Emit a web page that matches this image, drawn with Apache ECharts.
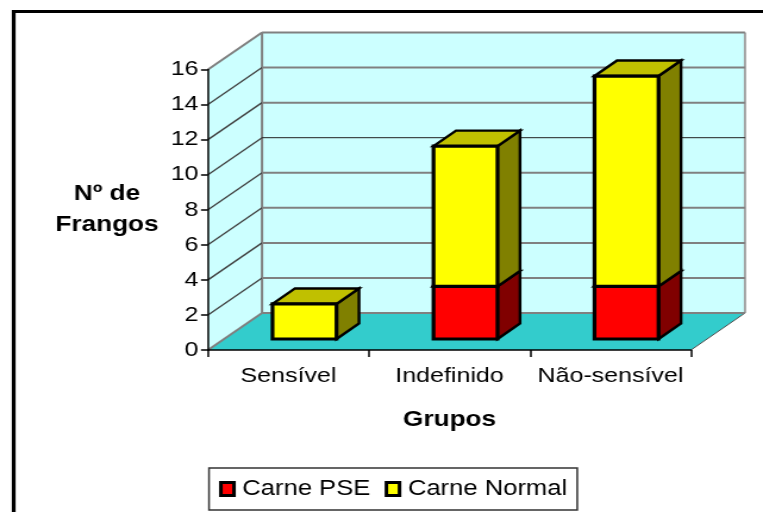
<!DOCTYPE html>
<html>
<head>
<meta charset="utf-8">
<style>html,body{margin:0;padding:0;background:#fff;overflow:hidden}#c{width:641px;height:512px;transform-origin:0 0;transform:scaleX(1.19033)}</style>
<script src="https://cdn.jsdelivr.net/npm/echarts@6/dist/echarts.min.js"></script>
</head>
<body>
<div id="c"></div>
<script>
const categories = ['Sensível', 'Indefinido', 'Não-sensível'];
const pseValues = [0, 3, 3];
const normalValues = [2, 8, 12];
const yTicks = [0, 2, 4, 6, 8, 10, 12, 14, 16];
const FONT = '"Liberation Sans", Arial, sans-serif';

// The reference is a picture stretched horizontally: the chart is laid out narrower and widened by CSS.
const SX = 763 / 641;
const px = v => v / SX;

const WALL = [px(54), -37];      // floor depth
const BAR_SHIFT = [px(16), -11];
const BAR_DEPTH = [px(22.5), -15.5];
const BAR_W = px(64);

function poly(points, fill, stroke, lw) {
  return { type: 'polygon', shape: { points }, style: { fill, stroke: stroke || null, lineWidth: lw || 0, lineJoin: 'miter' } };
}
function seg(a, b, stroke, lw) {
  return { type: 'line', shape: { x1: a[0], y1: a[1], x2: b[0], y2: b[1] }, style: { stroke, lineWidth: lw } };
}

function renderPanels(params, api) {
  const g = params.coordSys;
  const y0 = api.coord([0, 0])[1], yT = api.coord([0, 16])[1];
  const L = g.x, R = g.x + g.width, dx = WALL[0], dy = WALL[1];
  return { type: 'group', children: [
    poly([[L + dx, yT + dy], [R + dx, yT + dy], [R + dx, y0 + dy], [L + dx, y0 + dy]], '#CCFFFF'),
    poly([[L, yT], [L + dx, yT + dy], [L + dx, y0 + dy], [L, y0]], '#CCFFFF'),
    poly([[L, y0], [L + dx, y0 + dy], [R + dx, y0 + dy], [R, y0]], '#33CCCC'),
    seg([L + dx, yT + dy], [L + dx, y0 + dy], '#808080', 2),
    seg([R + dx, yT + dy], [R + dx, y0 + dy], '#A0A0A0', 2),
    seg([L, y0], [L + dx, y0 + dy], '#808080', 2),
    seg([R, y0], [R + dx, y0 + dy], '#505050', 1)
  ] };
}

function renderGrid(params, api) {
  const g = params.coordSys;
  const v = api.value(0);
  const y = api.coord([0, v])[1];
  const L = g.x, R = g.x + g.width, dx = WALL[0], dy = WALL[1];
  const children = [];
  if (v > 0) {
    const outer = v === 16;
    children.push(seg([L, y], [L + dx, y + dy], outer ? '#808080' : '#404040', outer ? 2 : 1.3));
  }
  children.push(seg([L + dx, y + dy], [R + dx, y + dy], v === 10 ? '#202020' : '#808080', v === 10 ? 1 : 2));
  return { type: 'group', children };
}

function makeBar(front, top, side) {
  return function (params, api) {
    const hi = api.value(2), lo = api.value(1);
    if (hi === lo) return null;
    const cx = api.coord([api.value(0), 0])[0] + BAR_SHIFT[0];
    const yb = api.coord([0, lo])[1] + BAR_SHIFT[1];
    const yt = api.coord([0, hi])[1] + BAR_SHIFT[1];
    const x1 = cx - BAR_W / 2, x2 = cx + BAR_W / 2;
    const dx = BAR_DEPTH[0], dy = BAR_DEPTH[1];
    return { type: 'group', children: [
      poly([[x2, yb], [x2 + dx, yb + dy], [x2 + dx, yt + dy], [x2, yt]], side, '#000', 2.4),
      poly([[x1, yt], [x1 + dx, yt + dy], [x2 + dx, yt + dy], [x2, yt]], top, '#000', 2.4),
      poly([[x1, yb], [x1, yt], [x2, yt], [x2, yb]], front, '#000', 3.2)
    ] };
  };
}

const pseData = categories.map((c, i) => [i, 0, pseValues[i]]);
const normalData = categories.map((c, i) => [i, pseValues[i], pseValues[i] + normalValues[i]]);

const chart = echarts.init(document.getElementById('c'), null, { renderer: 'canvas', width: 641, height: 512 });
chart.setOption({
  animation: false,
  backgroundColor: '#fff',
  graphic: [
    { type: 'line', silent: true, shape: { x1: px(13.7), y1: 10, x2: px(13.7), y2: 512 }, style: { stroke: '#000', lineWidth: 3.2 } },
    { type: 'line', silent: true, shape: { x1: px(12), y1: 11.5, x2: 641, y2: 11.5 }, style: { stroke: '#000', lineWidth: 3 } }
  ],
  grid: { left: px(208), top: 69.5, width: px(483), height: 280.5 },
  legend: {
    left: px(209), top: 468, padding: [10, 8.5, 10, 8.5], itemWidth: 11, itemHeight: 13, itemGap: 12,
    borderColor: '#333', borderWidth: 1.5, backgroundColor: '#fff', icon: 'rect', selectedMode: false,
    textStyle: { fontFamily: FONT, fontSize: 21.5, color: '#000', padding: [0, 0, 0, 2] },
    data: [
      { name: 'Carne PSE', itemStyle: { color: '#FF0000', borderColor: '#000', borderWidth: 3 } },
      { name: 'Carne Normal', itemStyle: { color: '#FFFF00', borderColor: '#000', borderWidth: 3 } }
    ]
  },
  xAxis: {
    type: 'category', data: categories, z: 5,
    name: 'Grupos', nameLocation: 'middle', nameGap: 59,
    nameTextStyle: { fontFamily: FONT, fontSize: 22, fontWeight: 'bold', color: '#000' },
    axisLine: { show: true, lineStyle: { color: '#000', width: 1.5 } },
    axisTick: { show: true, interval: 0, length: 7, lineStyle: { color: '#000', width: 1.5 } },
    axisLabel: { interval: 0, hideOverlap: false, fontFamily: FONT, fontSize: 21, color: '#000', margin: 16 },
    splitLine: { show: false }
  },
  yAxis: {
    type: 'value', min: 0, max: 16, interval: 2, z: 5,
    name: 'Nº de\nFrangos', nameLocation: 'middle', nameRotate: 0, nameGap: px(101),
    nameTextStyle: { fontFamily: FONT, fontSize: 22, fontWeight: 'bold', color: '#000', lineHeight: 31, align: 'center', verticalAlign: 'middle' },
    axisLine: { show: true, lineStyle: { color: '#000', width: 1.5 } },
    axisTick: { show: true, length: px(7), lineStyle: { color: '#000', width: 1.5 } },
    axisLabel: { fontFamily: FONT, fontSize: 21, color: '#000', margin: 8 },
    splitLine: { show: false }
  },
  series: [
    { type: 'custom', name: 'panels', silent: true, renderItem: renderPanels, data: [[0, 0]], encode: { x: 0, y: 1 }, z: 1 },
    { type: 'custom', name: 'gridlines', silent: true, renderItem: renderGrid, data: yTicks.map(v => [v]), encode: { y: 0 }, z: 1 },
    { type: 'custom', name: 'Carne PSE', renderItem: makeBar('#FF0000', '#800000', '#800000'), data: pseData, encode: { x: 0, y: 2 }, itemStyle: { color: '#FF0000' }, z: 3 },
    { type: 'custom', name: 'Carne Normal', renderItem: makeBar('#FFFF00', '#C0C000', '#808000'), data: normalData, encode: { x: 0, y: 2 }, itemStyle: { color: '#FFFF00' }, z: 4 }
  ]
});
</script>
</body>
</html>
